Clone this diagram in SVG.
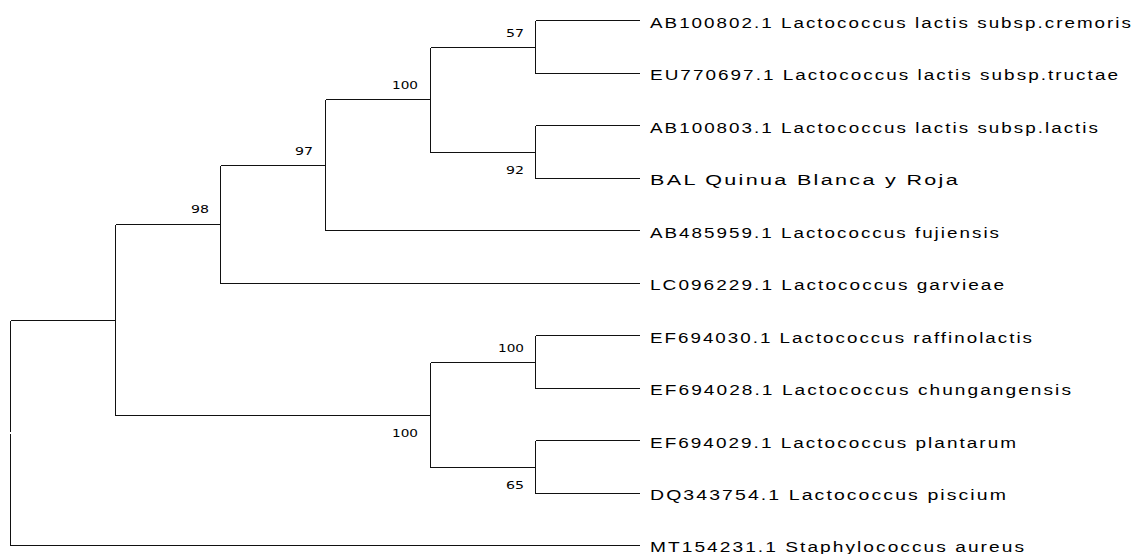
<svg xmlns="http://www.w3.org/2000/svg" width="1144" height="554" viewBox="0 0 1144 554">
<style>
.br{fill:none;stroke:#111;stroke-width:1.2;shape-rendering:crispEdges}
.lab{font-family:"Liberation Sans",Arial,sans-serif;font-size:14px;letter-spacing:1.5px;fill:#000}
.bs{font-family:"DejaVu Sans",Verdana,sans-serif;font-size:11px;fill:#000;text-anchor:end}
</style>
<rect width="1144" height="554" fill="#fff"/>
<g id="connectors">
<path class="br" d="M535.5 20.5V73.5M535.5 20.5H640M535.5 73.5H640"/>
<path class="br" d="M535.5 125.5V178.5M535.5 125.5H640M535.5 178.5H640"/>
<path class="br" d="M430.5 47.5V152.5M430.5 47.5H535.5M430.5 152.5H535.5"/>
<path class="br" d="M325.5 99.5V230.5M325.5 99.5H430.5M325.5 230.5H640"/>
<path class="br" d="M220.5 165.5V283.5M220.5 165.5H325.5M220.5 283.5H640"/>
<path class="br" d="M115.5 224.5V415.5M115.5 224.5H220.5M115.5 415.5H430.5"/>
<path class="br" d="M535.5 335.5V388.5M535.5 335.5H640M535.5 388.5H640"/>
<path class="br" d="M535.5 440.5V493.5M535.5 440.5H640M535.5 493.5H640"/>
<path class="br" d="M430.5 362.5V467.5M430.5 362.5H535.5M430.5 467.5H535.5"/>
<path class="br" d="M10.5 320.5V432M10.5 434V545.5M10.5 320.5H115.5M10.5 545.5H640"/>
</g>
<g id="bootstrap">
<text class="bs" x="524" y="37" textLength="18" lengthAdjust="spacingAndGlyphs">57</text>
<text class="bs" x="524" y="174" textLength="18" lengthAdjust="spacingAndGlyphs">92</text>
<text class="bs" x="418" y="89" textLength="26" lengthAdjust="spacingAndGlyphs">100</text>
<text class="bs" x="313" y="155" textLength="18" lengthAdjust="spacingAndGlyphs">97</text>
<text class="bs" x="209" y="213" textLength="18" lengthAdjust="spacingAndGlyphs">98</text>
<text class="bs" x="524" y="352" textLength="26" lengthAdjust="spacingAndGlyphs">100</text>
<text class="bs" x="418" y="437" textLength="26" lengthAdjust="spacingAndGlyphs">100</text>
<text class="bs" x="524" y="489" textLength="18" lengthAdjust="spacingAndGlyphs">65</text>
</g>
<g id="leaf-AB100802"><text class="lab" x="650" y="27.5" textLength="483" lengthAdjust="spacingAndGlyphs">AB100802.1 Lactococcus lactis subsp.cremoris</text></g>
<g id="leaf-EU770697"><text class="lab" x="650" y="80" textLength="470" lengthAdjust="spacingAndGlyphs">EU770697.1 Lactococcus lactis subsp.tructae</text></g>
<g id="leaf-AB100803"><text class="lab" x="650" y="132.5" textLength="450" lengthAdjust="spacingAndGlyphs">AB100803.1 Lactococcus lactis subsp.lactis</text></g>
<g id="leaf-BAL"><text class="lab" x="650" y="185" textLength="310" lengthAdjust="spacingAndGlyphs">BAL Quinua Blanca y Roja</text></g>
<g id="leaf-AB485959"><text class="lab" x="650" y="237.5" textLength="351" lengthAdjust="spacingAndGlyphs">AB485959.1 Lactococcus fujiensis</text></g>
<g id="leaf-LC096229"><text class="lab" x="650" y="290" textLength="356" lengthAdjust="spacingAndGlyphs">LC096229.1 Lactococcus garvieae</text></g>
<g id="leaf-EF694030"><text class="lab" x="650" y="342.5" textLength="384" lengthAdjust="spacingAndGlyphs">EF694030.1 Lactococcus raffinolactis</text></g>
<g id="leaf-EF694028"><text class="lab" x="650" y="395" textLength="423" lengthAdjust="spacingAndGlyphs">EF694028.1 Lactococcus chungangensis</text></g>
<g id="leaf-EF694029"><text class="lab" x="650" y="447.5" textLength="368" lengthAdjust="spacingAndGlyphs">EF694029.1 Lactococcus plantarum</text></g>
<g id="leaf-DQ343754"><text class="lab" x="650" y="500" textLength="358" lengthAdjust="spacingAndGlyphs">DQ343754.1 Lactococcus piscium</text></g>
<g id="leaf-MT154231"><text class="lab" x="650" y="552" textLength="376" lengthAdjust="spacingAndGlyphs">MT154231.1 Staphylococcus aureus</text></g>
</svg>
